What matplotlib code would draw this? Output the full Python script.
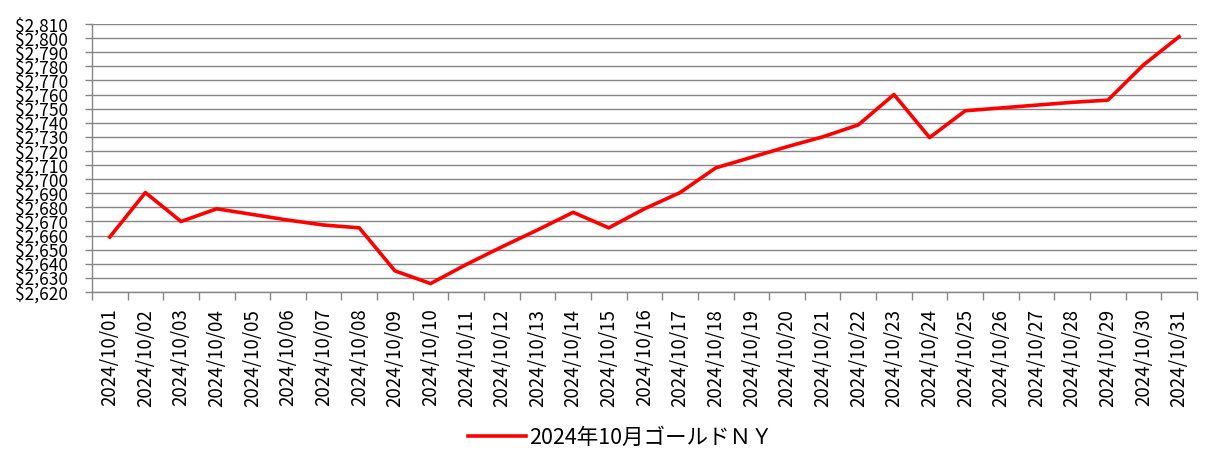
import numpy as np
import matplotlib
matplotlib.use("Agg")
import matplotlib.pyplot as plt

plt.rcParams['font.family'] = ['Noto Sans CJK JP', 'DejaVu Sans']

# ---------------------------------------------------------------------------
# Data
# ---------------------------------------------------------------------------
DATES = ["2024/10/%02d" % d for d in range(1, 32)]
PRICES = [2659, 2690.5, 2670, 2679, 2675, 2671, 2667.5, 2665.5, 2635, 2626,
          2639.5, 2652, 2664, 2676.5, 2665.5, 2679, 2690.5, 2708, 2715.5, 2723,
          2730, 2738.5, 2760, 2729.5, 2748.5, 2750.5, 2752.5, 2754.5, 2756, 2781,
          2801]
SERIES_NAME = "2024年10月ゴールドＮＹ"

YMIN, YMAX, YSTEP = 2620, 2810, 10

# ---------------------------------------------------------------------------
# Plot
# ---------------------------------------------------------------------------
fig = plt.figure(figsize=(12.21, 4.71), dpi=100)
ax = fig.add_axes([0.0753, 0.380, 0.905, 0.569])

x = np.arange(len(DATES))
ax.plot(x, PRICES, color='#FF0000', linewidth=2.6, solid_joinstyle='round',
        label=SERIES_NAME, zorder=3)

grid_c = '#868686'
ax.set_xlim(-0.5, len(DATES) - 0.5)
ax.set_ylim(YMIN, YMAX)
yt = np.arange(YMIN, YMAX + 1, YSTEP)
ax.set_yticks(yt)
ax.set_yticklabels(['$%s' % format(v, ',') for v in yt], fontsize=12.5)
ax.yaxis.grid(True, color=grid_c, linewidth=1)
ax.set_axisbelow(True)

ax.set_xticks(x)
ax.set_xticklabels(DATES, rotation=90, fontsize=13.5)
ax.set_xticks(np.arange(-0.5, len(DATES)), minor=True)
ax.tick_params(axis='x', which='major', length=0, pad=12)
ax.tick_params(axis='x', which='minor', length=6, color=grid_c, width=1)
ax.tick_params(axis='y', length=5, color=grid_c, width=1, pad=12)

for s in ['top', 'right']:
    ax.spines[s].set_visible(False)
for s in ['left', 'bottom']:
    ax.spines[s].set_color(grid_c)
    ax.spines[s].set_linewidth(1)

fig.legend(loc='center', bbox_to_anchor=(0.508, 0.07), frameon=False,
           fontsize=15.5, handlelength=2.7, handletextpad=0.15)

plt.savefig('out.png', dpi=100)
